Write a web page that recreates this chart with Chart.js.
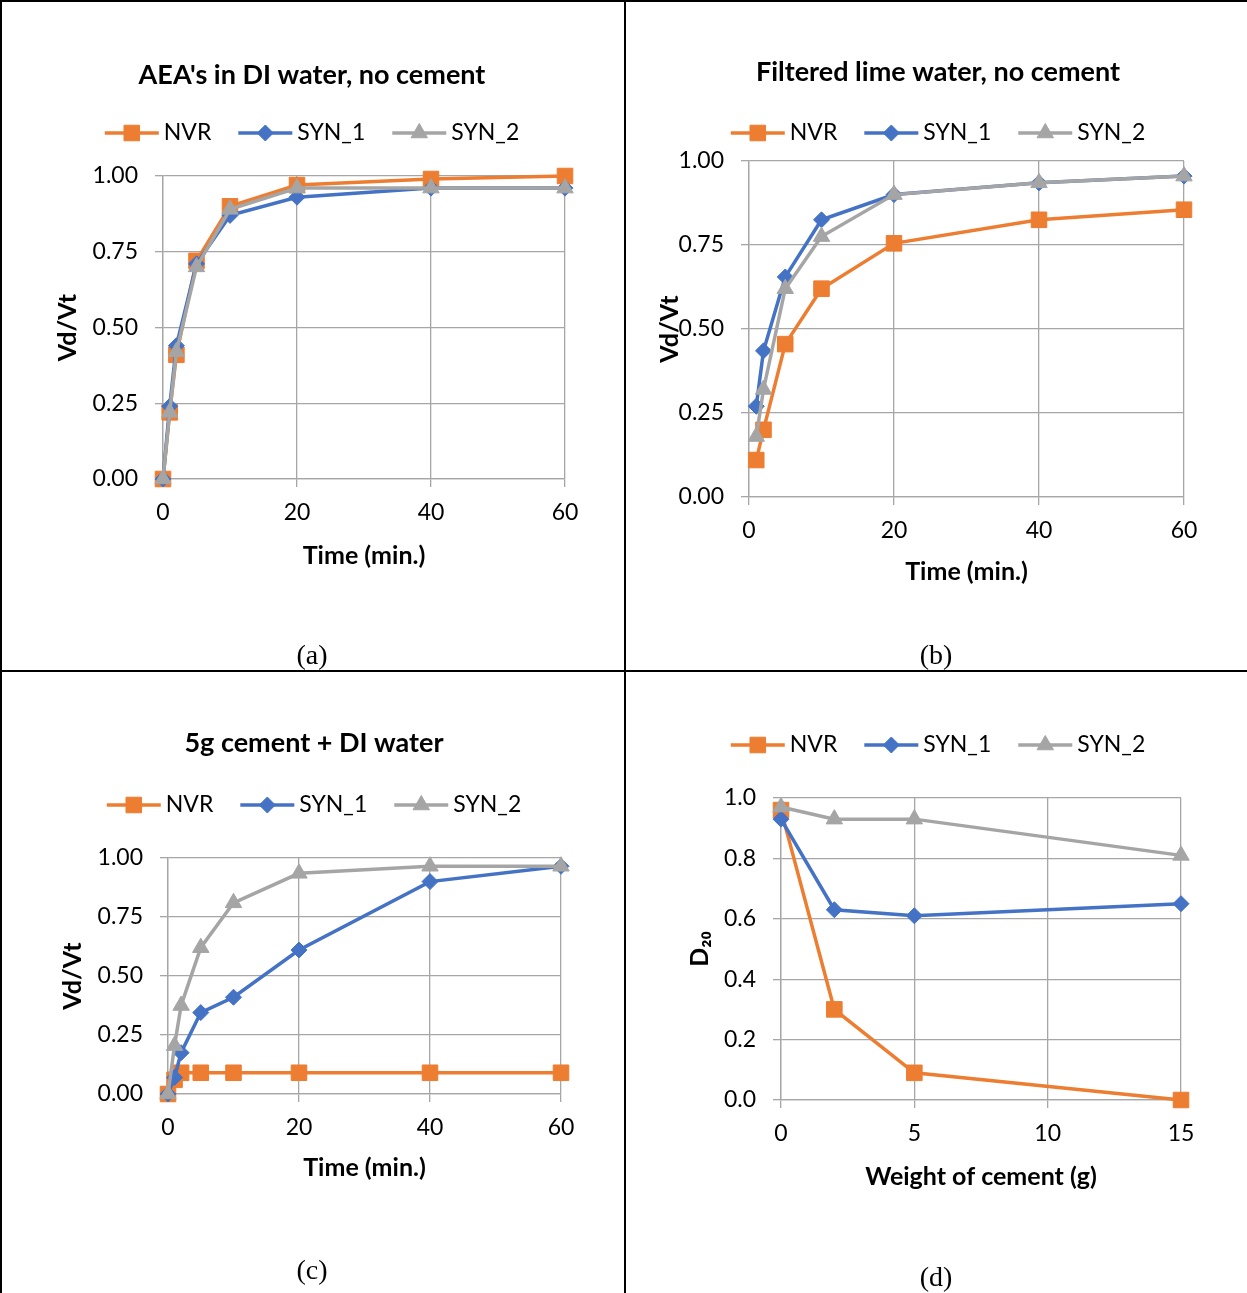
<!DOCTYPE html>
<html>
<head>
<meta charset="utf-8">
<script src="https://cdn.jsdelivr.net/npm/chart.js@4.4.1/dist/chart.umd.min.js"></script>
<style>
    body { margin: 0; background: #fff; }
    #pagina { position: relative; width: 1247px; height: 1293px; overflow: hidden; background: #fff; }
    #pagina canvas { position: absolute; }
    .linha { position: absolute; background: #000; }
    .rotulo { position: absolute; width: 100px; text-align: center; font-family: 'Liberation Serif', 'Times New Roman', serif; font-size: 28px; line-height: 28px; color: #000; }
</style>
</head>
<body>
<div id="pagina">
    <canvas id="graficoA" width="625" height="672" style="left:0;top:0"></canvas>
    <canvas id="graficoB" width="622" height="672" style="left:625px;top:0"></canvas>
    <canvas id="graficoC" width="625" height="621" style="left:0;top:672px"></canvas>
    <canvas id="graficoD" width="622" height="621" style="left:625px;top:672px"></canvas>

    <div class="linha" style="left:0;top:0;width:1247px;height:2px"></div>
    <div class="linha" style="left:0;top:0;width:2px;height:1293px"></div>
    <div class="linha" style="left:624px;top:0;width:2px;height:1293px"></div>
    <div class="linha" style="left:0;top:670px;width:1247px;height:2px"></div>

    <div class="rotulo" style="left:262px;top:641px">(a)</div>
    <div class="rotulo" style="left:886px;top:641px">(b)</div>
    <div class="rotulo" style="left:262px;top:1256px">(c)</div>
    <div class="rotulo" style="left:886px;top:1263px">(d)</div>
</div>
<script>
// (a) AEA's in DI water, no cement
const tempoA = [0, 1, 2, 5, 10, 20, 40, 60];
const nvrA = [0, 0.22, 0.41, 0.72, 0.90, 0.97, 0.99, 1.00];
const syn1A = [0, 0.24, 0.44, 0.71, 0.87, 0.93, 0.96, 0.96];
const syn2A = [0, 0.22, 0.42, 0.70, 0.89, 0.96, 0.96, 0.96];

// (b) Filtered lime water, no cement
const tempoB = [1, 2, 5, 10, 20, 40, 60];
const nvrB = [0.11, 0.20, 0.455, 0.62, 0.755, 0.825, 0.855];
const syn1B = [0.27, 0.435, 0.655, 0.825, 0.90, 0.935, 0.955];
const syn2B = [0.18, 0.32, 0.62, 0.775, 0.90, 0.935, 0.955];

// (c) 5g cement + DI water
const tempoC = [0, 1, 2, 5, 10, 20, 40, 60];
const nvrC = [0, 0.06, 0.09, 0.09, 0.09, 0.09, 0.09, 0.09];
const syn1C = [0, 0.07, 0.175, 0.345, 0.41, 0.61, 0.90, 0.965];
const syn2C = [0, 0.205, 0.375, 0.62, 0.81, 0.935, 0.965, 0.965];

// (d) D20 x peso de cimento
const cimentoD = [0, 2, 5, 15];
const nvrD = [0.96, 0.30, 0.09, 0.00];
const syn1D = [0.93, 0.63, 0.61, 0.65];
const syn2D = [0.97, 0.93, 0.93, 0.81];

const SERIES = ['NVR', 'SYN_1', 'SYN_2'];
const TITULOS = ["AEA's in DI water, no cement", 'Filtered lime water, no cement', '5g cement + DI water', ''];
const TITULO_X = ['Time (min.)', 'Time (min.)', 'Time (min.)', 'Weight of cement (g)'];
const TITULO_Y = ['Vd/Vt', 'Vd/Vt', 'Vd/Vt', 'D\u2082\u2080'];

const FONTE = "Lato, 'DejaVu Sans', sans-serif";
const GRADE = '#A6A6A6';
const CORES = {
    nvr: '#ED7D31',
    syn1: '#4472C4',
    syn2: '#A5A5A5'
};

const TAM_TICK = 23;
const TAM_EIXO = 25;
const TAM_TITULO = 27;
const TAM_LEGENDA = 23;

// titulo + legenda no estilo do Excel
const cabecalho = {
    id: 'cabecalho',
    afterDraw(chart, args, opts) {
        const ctx = chart.ctx;
        ctx.save();
        ctx.textBaseline = 'middle';
        ctx.fillStyle = '#000';
        if (opts.titulo) {
            ctx.font = 'bold ' + TAM_TITULO + 'px ' + FONTE;
            ctx.textAlign = 'center';
            ctx.fillText(opts.titulo, opts.cx, opts.tituloY);
        }
        ctx.font = TAM_LEGENDA + 'px ' + FONTE;
        ctx.textAlign = 'left';
        const iconeW = 54, gapTexto = 5, gapItem = 27;
        const sets = chart.data.datasets;
        let total = 0;
        sets.forEach((ds, i) => {
            total += iconeW + gapTexto + ctx.measureText(ds.label).width + (i < sets.length - 1 ? gapItem : 0);
        });
        let x = opts.cx - total / 2;
        const y = opts.legendaY;
        sets.forEach(ds => {
            ctx.strokeStyle = ds.borderColor;
            ctx.lineWidth = 3.5;
            ctx.beginPath();
            ctx.moveTo(x, y);
            ctx.lineTo(x + iconeW, y);
            ctx.stroke();
            ctx.fillStyle = ds.backgroundColor;
            ctx.lineWidth = 1;
            Chart.helpers.drawPoint(ctx, { pointStyle: ds.pointStyle, radius: ds.pointRadius, borderWidth: 1, rotation: 0 }, x + iconeW / 2, y);
            ctx.fillStyle = '#000';
            ctx.fillText(ds.label, x + iconeW + gapTexto, y);
            x += iconeW + gapTexto + ctx.measureText(ds.label).width + gapItem;
        });
        ctx.restore();
    }
};

const serie = (label, xs, ys, cor, estilo, raio, ordem) => ({
    label,
    data: xs.map((x, i) => ({ x, y: ys[i] })),
    borderColor: cor,
    backgroundColor: cor,
    borderWidth: 3.5,
    pointStyle: estilo,
    pointRadius: raio,
    pointHoverRadius: raio,
    pointBorderWidth: 1,
    tension: 0,
    clip: false,
    order: ordem
});

// posicoes de cada grafico na pagina (px)
const QUADROS = [
    { id: 'graficoA', tela: { l: 0, t: 0, w: 625, h: 672 }, area: { l: 163, t: 176, r: 565, b: 479 }, tituloXY: 556, tituloYX: 68, tituloY: 75, legendaY: 133, cx: 312, xMax: 60, xPasso: 20, yPasso: 0.25, casas: 2 },
    { id: 'graficoB', tela: { l: 625, t: 0, w: 622, h: 672 }, area: { l: 749, t: 161, r: 1184, b: 497 }, tituloXY: 572, tituloYX: 670, tituloY: 72, legendaY: 133, cx: 938, xMax: 60, xPasso: 20, yPasso: 0.25, casas: 2 },
    { id: 'graficoC', tela: { l: 0, t: 672, w: 625, h: 621 }, area: { l: 168, t: 858, r: 561, b: 1094 }, tituloXY: 1168, tituloYX: 73, tituloY: 743, legendaY: 805, cx: 314, xMax: 60, xPasso: 20, yPasso: 0.25, casas: 2 },
    { id: 'graficoD', tela: { l: 625, t: 672, w: 622, h: 621 }, area: { l: 781, t: 798, r: 1181, b: 1100 }, tituloXY: 1177, tituloYX: 700, tituloY: 0, legendaY: 745, cx: 938, xMax: 15, xPasso: 5, yPasso: 0.2, casas: 1 }
];

const DADOS = [
    [tempoA, nvrA, syn1A, syn2A],
    [tempoB, nvrB, syn1B, syn2B],
    [tempoC, nvrC, syn1C, syn2C],
    [cimentoD, nvrD, syn1D, syn2D]
];

const ALTURA_X = 100;
const LINHA_EIXO = TAM_EIXO * 1.2;

const montarGrafico = (q, dados, titulo, tituloX, tituloY) => {
    const [xs, nvr, syn1, syn2] = dados;
    const ctx = document.querySelector('#' + q.id);
    const larguraY = q.area.l - q.tela.l;

    try {
        new Chart(ctx, {
            type: 'line',
            data: {
                datasets: [
                    serie(SERIES[0], xs, nvr, CORES.nvr, 'rect', 11, 3),
                    serie(SERIES[1], xs, syn1, CORES.syn1, 'rectRot', 8, 2),
                    serie(SERIES[2], xs, syn2, CORES.syn2, 'triangle', 9.5, 1)
                ]
            },
            options: {
                responsive: false,
                animation: false,
                events: [],
                layout: {
                    padding: {
                        top: q.area.t - q.tela.t,
                        left: 0,
                        right: q.tela.l + q.tela.w - q.area.r,
                        bottom: q.tela.t + q.tela.h - q.area.b - ALTURA_X
                    }
                },
                plugins: {
                    legend: { display: false },
                    tooltip: { enabled: false },
                    title: { display: false },
                    cabecalho: {
                        titulo: titulo,
                        tituloY: q.tituloY - q.tela.t,
                        legendaY: q.legendaY - q.tela.t,
                        cx: q.cx - q.tela.l
                    }
                },
                scales: {
                    x: {
                        type: 'linear',
                        min: 0,
                        max: q.xMax,
                        ticks: {
                            stepSize: q.xPasso,
                            color: '#000',
                            padding: 12,
                            maxRotation: 0,
                            font: { family: FONTE, size: TAM_TICK }
                        },
                        grid: { color: GRADE, lineWidth: 1.3, tickLength: 8, tickColor: GRADE },
                        border: { color: GRADE, width: 1.3 },
                        title: {
                            display: true,
                            text: tituloX,
                            color: '#000',
                            font: { family: FONTE, size: TAM_EIXO, weight: 'bold' },
                            padding: { top: 0, bottom: q.area.b + ALTURA_X - LINHA_EIXO / 2 - q.tituloXY }
                        },
                        afterFit: (escala) => { escala.height = ALTURA_X; }
                    },
                    y: {
                        min: 0,
                        max: 1,
                        ticks: {
                            stepSize: q.yPasso,
                            color: '#000',
                            padding: 17,
                            font: { family: FONTE, size: TAM_TICK },
                            callback: (v) => v.toFixed(q.casas)
                        },
                        grid: { color: GRADE, lineWidth: 1.3, tickLength: 8, tickColor: GRADE },
                        border: { color: GRADE, width: 1.3 },
                        title: {
                            display: true,
                            text: tituloY,
                            color: '#000',
                            font: { family: FONTE, size: TAM_EIXO, weight: 'bold' },
                            padding: { top: q.tituloYX - q.tela.l - LINHA_EIXO / 2, bottom: 0 }
                        },
                        afterFit: (escala) => { escala.width = larguraY; }
                    }
                }
            },
            plugins: [cabecalho]
        });
    }
    catch (exception) {
        console.error('Erro ao montar o gráfico: ' + exception);
    }
};

QUADROS.forEach((q, i) => montarGrafico(q, DADOS[i], TITULOS[i], TITULO_X[i], TITULO_Y[i]));
</script>
</body>
</html>
